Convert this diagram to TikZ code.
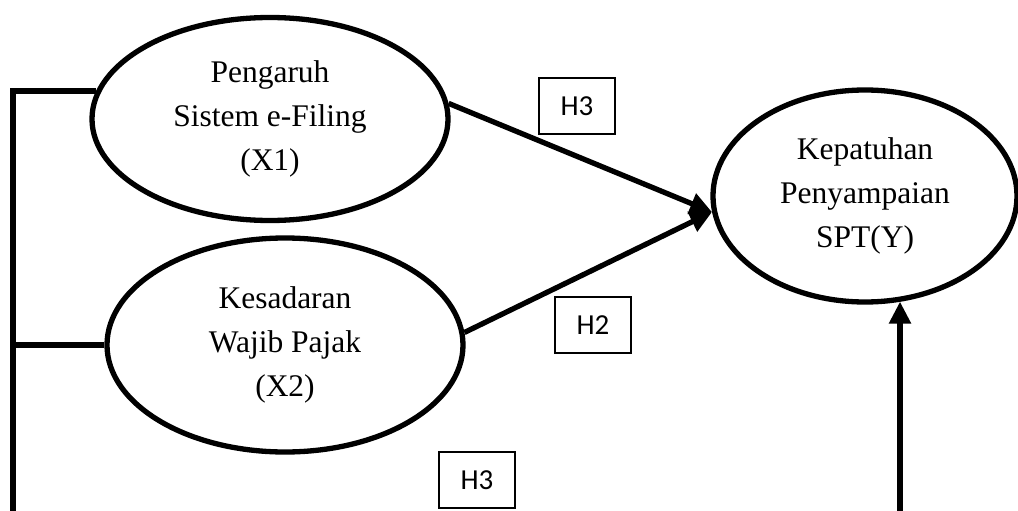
\documentclass[tikz,border=0pt]{standalone}
\usepackage{fontspec}
\setmainfont{Liberation Serif}
\newfontfamily\hypfont{Carlito}
\usetikzlibrary{shapes.geometric, arrows.meta, positioning}

\begin{document}
\begin{tikzpicture}[x=1pt, y=-1pt]
        % styles %
        \tikzstyle{var} = [ellipse, draw, line width=5.3pt, inner sep=0pt, align=center, font=\fontsize{31.5}{44}\selectfont];
        \tikzstyle{hyp} = [rectangle, draw, line width=1.1pt, inner sep=0pt, minimum width=76pt, minimum height=56pt, font=\hypfont\fontsize{29}{32}\selectfont];
        \tikzstyle{effect} = [-{Triangle[length=22pt,width=21pt]}, line width=5.3pt];
        \tikzstyle{link} = [line width=5.3pt];

        \useasboundingbox (0,0) rectangle (1018,511);

        % nodes %
        \node [var, minimum width=356pt, minimum height=203pt] (X1) at (270,119) {Pengaruh\\Sistem e-Filing\\(X1)};
        \node [var, minimum width=356pt, minimum height=214pt] (X2) at (285,345) {Kesadaran\\Wajib Pajak\\(X2)};
        \node [var, minimum width=304pt, minimum height=212pt] (Y) at (865,196) {Kepatuhan\\Penyampaian\\SPT(Y)};

        \node [hyp] (h3a) at (577,106) {H3};
        \node [hyp] (h2) at (593,325) {H2};
        \node [hyp] (h3b) at (477,480) {H3};

        \coordinate (ltop) at (13,91);
        \coordinate (lmid) at (13,345);
        \coordinate (lbot) at (13,513);
        \coordinate (rbot) at (900,513);

        % edges %
        \draw [effect] (X1.5) -- (Y.186);
        \draw [effect] (X2.4) -- (Y.186);
        \draw [effect] (rbot) -- (rbot |- Y.289);
        \draw [link] (lbot) -- (ltop) -- (ltop -| X1.171);
        \draw [link] (lmid) -- (lmid -| X2.west);
\end{tikzpicture}
\end{document}
